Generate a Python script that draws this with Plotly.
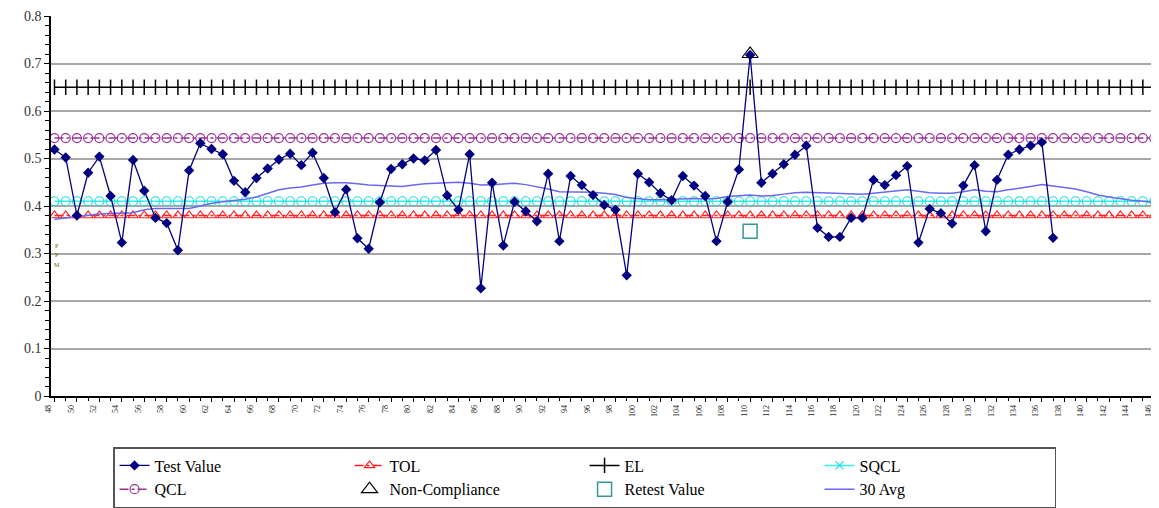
import plotly.graph_objects as go

# ---------------- data ----------------
sample_x = list(range(48, 138))
test_values = [
    0.519, 0.502, 0.380, 0.470, 0.504, 0.421, 0.323, 0.497, 0.432, 0.375,
    0.364, 0.307, 0.475, 0.532, 0.520, 0.509, 0.453, 0.429, 0.459, 0.479,
    0.498, 0.510, 0.486, 0.512, 0.459, 0.387, 0.435, 0.332, 0.310, 0.408,
    0.478, 0.488, 0.500, 0.496, 0.518, 0.422, 0.392, 0.509, 0.227, 0.449,
    0.317, 0.409, 0.389, 0.368, 0.468, 0.326, 0.463, 0.444, 0.423, 0.402,
    0.392, 0.254, 0.468, 0.450, 0.427, 0.412, 0.463, 0.443, 0.421, 0.326,
    0.409, 0.477, 0.718, 0.449, 0.468, 0.488, 0.508, 0.527, 0.354, 0.335,
    0.335, 0.375, 0.375, 0.455, 0.444, 0.465, 0.484, 0.323, 0.394, 0.385,
    0.363, 0.443, 0.486, 0.347, 0.455, 0.508, 0.519, 0.527, 0.534, 0.333,
]

avg_x = list(range(48, 147))
avg30 = [
    0.372, 0.375, 0.378, 0.381, 0.383, 0.384, 0.385, 0.386, 0.392, 0.395,
    0.395, 0.395, 0.395, 0.400, 0.406, 0.409, 0.411, 0.414, 0.419, 0.427,
    0.434, 0.438, 0.440, 0.444, 0.448, 0.449, 0.449, 0.447, 0.444, 0.443,
    0.442, 0.441, 0.444, 0.447, 0.448, 0.449, 0.450, 0.448, 0.444, 0.445,
    0.447, 0.448, 0.445, 0.441, 0.436, 0.430, 0.430, 0.430, 0.429, 0.427,
    0.424, 0.418, 0.415, 0.413, 0.413, 0.414, 0.416, 0.416, 0.415, 0.416,
    0.420, 0.422, 0.423, 0.421, 0.422, 0.425, 0.428, 0.429, 0.428, 0.427,
    0.427, 0.426, 0.425, 0.427, 0.429, 0.432, 0.434, 0.431, 0.428, 0.427,
    0.427, 0.430, 0.434, 0.431, 0.430, 0.434, 0.437, 0.441, 0.445, 0.442,
    0.438, 0.436, 0.430, 0.423, 0.419, 0.415, 0.412, 0.410, 0.408,
]

limit_x = list(range(48, 147))
TOL = 0.38
SQCL = 0.41
QCL = 0.543
EL = 0.65

noncomp_x = [110]
noncomp_y = [0.72]
retest_x = [110]
retest_y = [0.347]

y_ticks = [0, 0.1, 0.2, 0.3, 0.4, 0.5, 0.6, 0.7, 0.8]
x_tick_vals = list(range(48, 147, 2))

side_labels = ["P", "P", "M"]
side_label_y = [0.316, 0.297, 0.276]

# ---------------- figure ----------------
fig = go.Figure()

def flat(v):
    return [v] * len(limit_x)

# EL
fig.add_trace(go.Scatter(
    x=limit_x, y=flat(EL), name="EL", mode="lines+markers",
    line=dict(color="black", width=1.5),
    marker=dict(symbol="line-ns-open", size=11, color="black", line=dict(color="black", width=1.5)),
    legendrank=3, hoverinfo="skip"))
# QCL
fig.add_trace(go.Scatter(
    x=limit_x, y=flat(QCL), name="QCL", mode="lines+markers",
    line=dict(color="#993399", width=1.5, dash="dashdot"),
    marker=dict(symbol="circle-open", size=9, color="#993399", line=dict(width=1.2)),
    legendrank=5, hoverinfo="skip"))
# SQCL (chart)
fig.add_trace(go.Scatter(
    x=limit_x, y=flat(SQCL), name="SQCL", mode="lines+markers",
    line=dict(color="#33eeee", width=1.5),
    marker=dict(symbol="circle-open", size=9, color="#22dddd", line=dict(width=1.2)),
    showlegend=False, hoverinfo="skip"))
# SQCL legend entry
fig.add_trace(go.Scatter(
    x=[None], y=[None], name="SQCL", mode="lines+markers",
    line=dict(color="#33eeee", width=1.5),
    marker=dict(symbol="x-thin-open", size=8, color="#22dddd", line=dict(width=1.2, color="#22dddd")),
    legendrank=4))
# TOL
fig.add_trace(go.Scatter(
    x=limit_x, y=flat(TOL), name="TOL", mode="lines+markers",
    line=dict(color="#ff2020", width=1.5, dash="dashdot"),
    marker=dict(symbol="triangle-up-open", size=9, color="#ff2020", line=dict(width=1.2)),
    legendrank=2, hoverinfo="skip"))
# 30 Avg
fig.add_trace(go.Scatter(
    x=avg_x, y=avg30, name="30 Avg", mode="lines",
    line=dict(color="#6868f0", width=1.5),
    legendrank=8))
# Test Value
fig.add_trace(go.Scatter(
    x=sample_x, y=test_values, name="Test Value", mode="lines+markers",
    line=dict(color="#000080", width=1.3),
    marker=dict(symbol="diamond", size=8, color="#000080"),
    legendrank=1))
# Non-Compliance
fig.add_trace(go.Scatter(
    x=noncomp_x, y=noncomp_y, name="Non-Compliance", mode="markers",
    marker=dict(symbol="triangle-up-open", size=14, color="black", line=dict(width=1.2)),
    legendrank=6))
# Retest Value
fig.add_trace(go.Scatter(
    x=retest_x, y=retest_y, name="Retest Value", mode="markers",
    marker=dict(symbol="square-open", size=14, color="#339999", line=dict(width=1.5)),
    legendrank=7))

for t, yy in zip(side_labels, side_label_y):
    fig.add_annotation(x=48.2, y=yy, text=t, showarrow=False,
                       font=dict(size=6, color="#7a5a20", family="Liberation Serif"))

# the page body adds an 8px margin, so the figure is sized to fill the rest of the window
fig.update_layout(
    width=1151, height=500,
    margin=dict(l=43, r=0, t=8, b=111),
    paper_bgcolor="white", plot_bgcolor="white",
    font=dict(family="Liberation Serif", color="black"),
    showlegend=True,
    legend=dict(
        orientation="h", x=0.056, y=-0.133, xanchor="left", yanchor="top",
        entrywidth=190, entrywidthmode="pixels",
        font=dict(family="Liberation Serif", size=16, color="black"),
        bordercolor="#555555", borderwidth=1.5, bgcolor="white",
        traceorder="normal",
    ),
)

fig.update_xaxes(
    range=[47.69, 146.44], automargin=False, ticklabeloverflow="allow",
    ticklabelshift=-6,
    tickmode="array", tickvals=x_tick_vals, ticktext=[str(v) for v in x_tick_vals],
    tickangle=-90, tickfont=dict(size=8, family="Liberation Serif", color="#222222"),
    ticks="outside", ticklen=4, tickcolor="black",
    minor=dict(dtick=1, ticks="outside", ticklen=3, tickcolor="black"),
    showgrid=False, zeroline=False,
    showline=True, linecolor="black", linewidth=1.5,
)
fig.update_yaxes(
    range=[0, 0.8], automargin=False, ticklabeloverflow="allow",
    tickmode="array", tickvals=y_ticks, ticktext=[("0" if v == 0 else f"{v:.1f}") for v in y_ticks],
    tickfont=dict(size=14, family="Liberation Serif", color="#333333"),
    ticks="outside", ticklen=5, tickcolor="black",
    minor=dict(dtick=0.02, tick0=0, ticks="outside", ticklen=4, tickcolor="black", showgrid=False),
    showgrid=True, gridcolor="#a8a8a8", gridwidth=2,
    zeroline=False,
    showline=True, linecolor="black", linewidth=1.5,
)

fig.write_html("out.html")
